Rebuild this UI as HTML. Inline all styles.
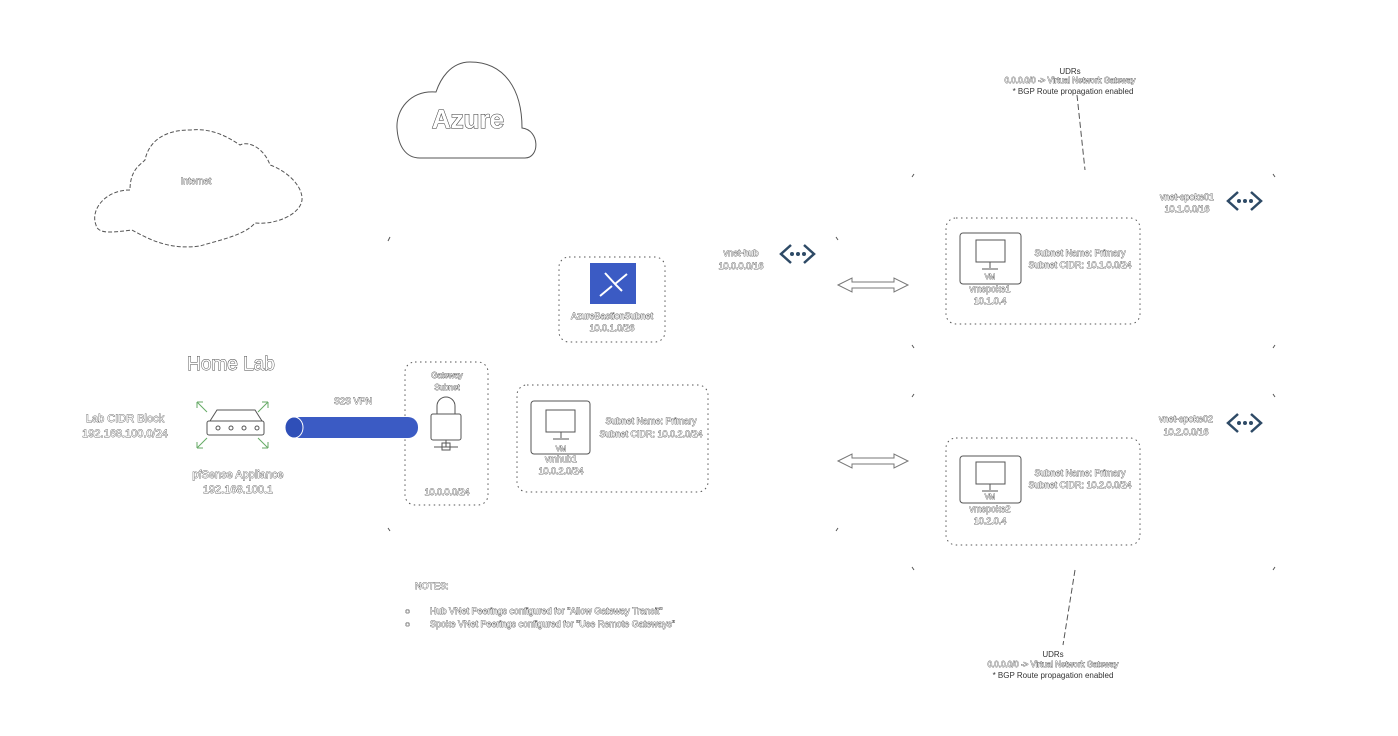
<!DOCTYPE html>
<html><head><meta charset="utf-8"><style>
html,body{margin:0;padding:0;background:#fff;width:1398px;height:736px;overflow:hidden}
svg{display:block}
text{font-family:"Liberation Sans",sans-serif;fill:#fff;stroke:#444;stroke-width:0.7px;paint-order:stroke}
.d{fill:#333;stroke:none}
</style></head><body>
<svg width="1398" height="736" viewBox="0 0 1398 736" xmlns="http://www.w3.org/2000/svg">
<g fill="none" stroke="#555" stroke-width="1">
<path d="M130 190 C105 190 90 210 96 225 C98 235 115 232 132 230 C150 240 170 250 200 246 C220 240 245 235 255 223 C275 225 300 215 302 200 C303 185 285 170 270 165 C265 150 250 140 240 145 C225 135 210 128 190 130 C160 130 148 145 145 160 C140 165 130 170 130 190 Z" stroke-dasharray="4 2"/>
<path d="M420 158 L525 158 C540 158 540 130 522 128 C522 90 505 62 470 62 C450 62 440 80 436 92 C410 90 396 110 397 128 C398 145 405 158 420 158 Z"/>
<path d="M388 241 L390 237 M388 528 L390 531 M836 237 L838 240 M836 531 L838 528"/>
<path d="M912 177 L914 174 M912 345 L914 348 M1273 174 L1275 177 M1273 348 L1275 345"/>
<path d="M912 397 L914 394 M912 567 L914 570 M1273 394 L1275 397 M1273 570 L1275 567"/>
<g stroke-dasharray="1.5 3.5">
<rect x="559" y="257" width="106" height="85" rx="10"/>
<rect x="405" y="362" width="83" height="143" rx="10"/>
<rect x="517" y="385" width="191" height="107" rx="10"/>
<rect x="946" y="218" width="194" height="106" rx="10"/>
<rect x="946" y="438" width="194" height="107" rx="10"/>
</g>
<path d="M1077 95 L1085 170" stroke-dasharray="6 3"/>
<path d="M1075 570 L1063 645" stroke-dasharray="6 3"/>
<path d="M838 285 L852 278 L852 282 L894 282 L894 278 L908 285 L894 292 L894 288 L852 288 L852 292 Z" stroke="#777"/>
<path d="M838 461 L852 454 L852 458 L894 458 L894 454 L908 461 L894 468 L894 464 L852 464 L852 468 Z" stroke="#777"/>
<rect x="531" y="401" width="59" height="53" rx="3"/><rect x="546" y="410" width="29" height="22"/><path d="M561 432 L561 438 M553 439 L569 439"/>
<rect x="960" y="233" width="61" height="51" rx="3"/><rect x="976" y="240" width="29" height="22"/><path d="M990 262 L990 268 M982 269 L998 269"/>
<rect x="960" y="456" width="61" height="47" rx="3"/><rect x="976" y="462" width="29" height="22"/><path d="M990 484 L990 490 M982 491 L998 491"/>
<path d="M217 410 L255 410 L262 421 L210 421 Z"/><rect x="207" y="421" width="57" height="14" rx="2"/>
<circle cx="218" cy="428" r="2"/><circle cx="231" cy="428" r="2"/><circle cx="244" cy="428" r="2"/><circle cx="257" cy="428" r="2"/>
<path d="M197 402 L207 412 M197 402 L197 408 M197 402 L203 402 M268 402 L258 412 M268 402 L262 402 M268 402 L268 408 M197 448 L207 438 M197 448 L197 442 M197 448 L203 448 M268 448 L258 438 M268 448 L268 442 M268 448 L262 448" stroke="#6a6"/>
<rect x="431" y="414" width="30" height="26" rx="2"/><path d="M437 414 L437 406 A9 9 0 0 1 455 406 L455 414 M446 440 L446 447 M434 447 L458 447"/>
<rect x="442" y="443" width="8" height="7"/>
</g>
<g fill="none" stroke="#2e4a66" stroke-width="2.5">
<path d="M791 245 L781 254 L791 263 M804 245 L814 254 L804 263"/>
<path d="M1238 192 L1228 201 L1238 210 M1251 192 L1261 201 L1251 210"/>
<path d="M1238 414 L1228 423 L1238 432 M1251 414 L1261 423 L1251 432"/>
</g>
<g fill="#2e4a66"><circle cx="792" cy="254" r="2"/><circle cx="798" cy="254" r="2"/><circle cx="804" cy="254" r="2"/>
<circle cx="1239" cy="201" r="2"/><circle cx="1245" cy="201" r="2"/><circle cx="1251" cy="201" r="2"/>
<circle cx="1239" cy="423" r="2"/><circle cx="1245" cy="423" r="2"/><circle cx="1251" cy="423" r="2"/></g>
<rect x="590" y="263" width="46" height="41" fill="#3b5bc4"/>
<path d="M600 296 L612 286 M605 273 L616 285 L622 291 M627 274 L615 284" stroke="#fff" stroke-width="2" fill="none"/>
<rect x="290" y="417" width="128" height="21" rx="10" fill="#3b5bc4"/>
<ellipse cx="294" cy="427.5" rx="9" ry="10.5" fill="#2f4fb8" stroke="#fff" stroke-width="1"/>
<text x="468" y="128" font-size="26" font-weight="bold" text-anchor="middle" style="stroke:#333;stroke-width:1px">Azure</text>
<text x="196" y="184" font-size="9" text-anchor="middle">Internet</text>
<text x="231" y="370" font-size="19" text-anchor="middle" style="stroke-width:0.9px">Home Lab</text>
<text x="125" y="422" font-size="11" text-anchor="middle">Lab CIDR Block</text>
<text x="125" y="437" font-size="11" text-anchor="middle">192.168.100.0/24</text>
<text x="238" y="478" font-size="11" text-anchor="middle">pfSense Appliance</text>
<text x="238" y="493" font-size="11" text-anchor="middle">192.168.100.1</text>
<text x="353" y="404" font-size="9" text-anchor="middle">S2S VPN</text>
<text x="447" y="378" font-size="8" text-anchor="middle">Gateway</text>
<text x="447" y="390" font-size="8" text-anchor="middle">Subnet</text>
<text x="447" y="495" font-size="9" text-anchor="middle">10.0.0.0/24</text>
<text x="612" y="319" font-size="9" text-anchor="middle">AzureBastionSubnet</text>
<text x="612" y="331" font-size="9" text-anchor="middle">10.0.1.0/26</text>
<text x="741" y="256" font-size="9" text-anchor="middle">vnet-hub</text>
<text x="741" y="269" font-size="9" text-anchor="middle">10.0.0.0/16</text>
<text x="651" y="424" font-size="9" text-anchor="middle">Subnet Name: Primary</text>
<text x="651" y="437" font-size="9" text-anchor="middle">Subnet CIDR: 10.0.2.0/24</text>
<text x="561" y="451" font-size="7" text-anchor="middle">VM</text>
<text x="561" y="462" font-size="9" text-anchor="middle">vmhub1</text>
<text x="561" y="474" font-size="9" text-anchor="middle">10.0.2.0/24</text>
<text x="1080" y="256" font-size="9" text-anchor="middle">Subnet Name: Primary</text>
<text x="1080" y="268" font-size="9" text-anchor="middle">Subnet CIDR: 10.1.0.0/24</text>
<text x="990" y="279" font-size="7" text-anchor="middle">VM</text>
<text x="990" y="292" font-size="9" text-anchor="middle">vmspoke1</text>
<text x="990" y="304" font-size="9" text-anchor="middle">10.1.0.4</text>
<text x="1187" y="200" font-size="9" text-anchor="middle">vnet-spoke01</text>
<text x="1187" y="212" font-size="9" text-anchor="middle">10.1.0.0/16</text>
<text x="1080" y="476" font-size="9" text-anchor="middle">Subnet Name: Primary</text>
<text x="1080" y="488" font-size="9" text-anchor="middle">Subnet CIDR: 10.2.0.0/24</text>
<text x="990" y="499" font-size="7" text-anchor="middle">VM</text>
<text x="990" y="512" font-size="9" text-anchor="middle">vmspoke2</text>
<text x="990" y="524" font-size="9" text-anchor="middle">10.2.0.4</text>
<text x="1186" y="422" font-size="9" text-anchor="middle">vnet-spoke02</text>
<text x="1186" y="435" font-size="9" text-anchor="middle">10.2.0.0/16</text>
<text class="d" x="1070" y="74" font-size="8" text-anchor="middle">UDRs</text>
<text x="1070" y="83" font-size="8" text-anchor="middle">0.0.0.0/0 -&gt; Virtual Network Gateway</text>
<text class="d" x="1073" y="94" font-size="8" text-anchor="middle">* BGP Route propagation enabled</text>
<text class="d" x="1053" y="657" font-size="8" text-anchor="middle">UDRs</text>
<text x="1053" y="667" font-size="8" text-anchor="middle">0.0.0.0/0 -&gt; Virtual Network Gateway</text>
<text class="d" x="1053" y="678" font-size="8" text-anchor="middle">* BGP Route propagation enabled</text>
<text x="415" y="589" font-size="9">NOTES:</text>
<text x="405" y="614" font-size="9">○</text>
<text x="430" y="614" font-size="9">Hub VNet Peerings configured for "Allow Gateway Transit"</text>
<text x="405" y="627" font-size="9">○</text>
<text x="430" y="627" font-size="9">Spoke VNet Peerings configured for "Use Remote Gateways"</text>
</svg>
</body></html>
